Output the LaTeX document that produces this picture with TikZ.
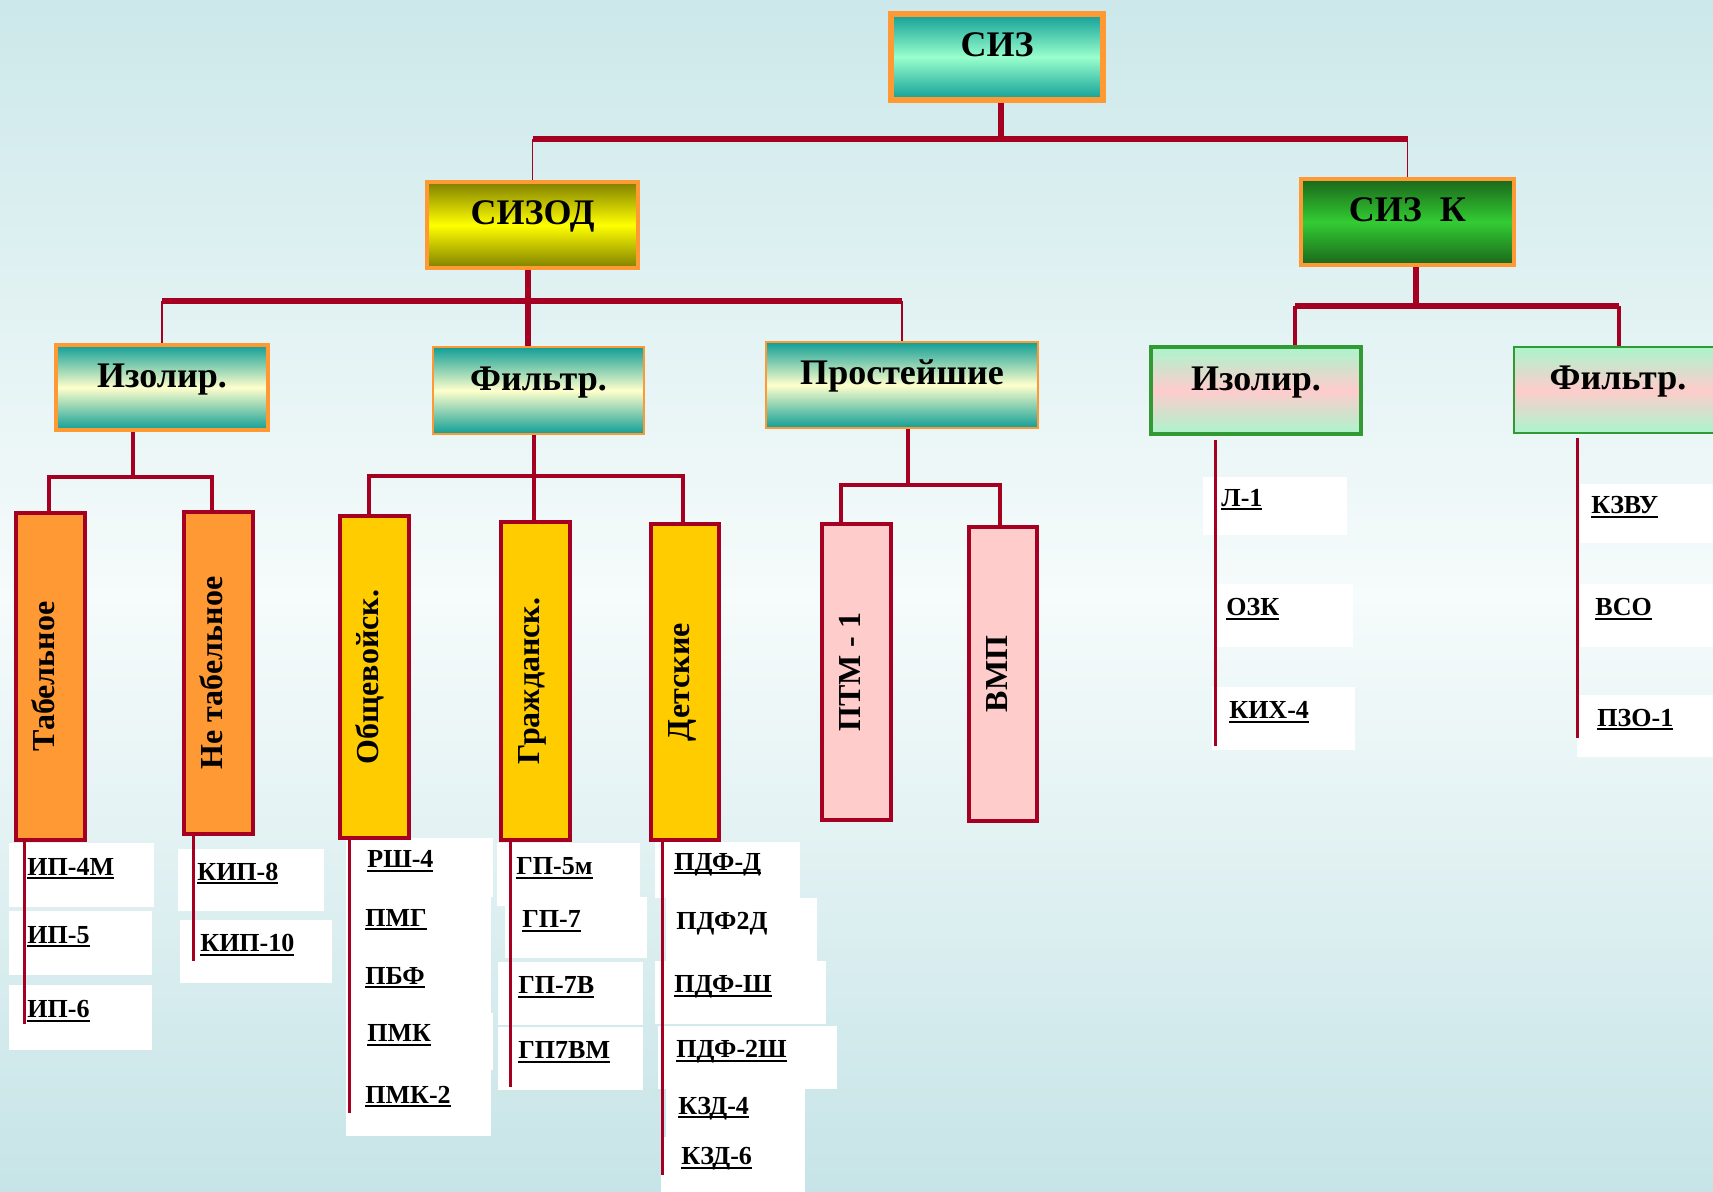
\documentclass[tikz,border=0pt]{standalone}
\usepackage{fontspec}
\setmainfont{Liberation Serif}
\definecolor{conn}{HTML}{A50021}
\definecolor{orng}{HTML}{FF9933}
\definecolor{teal1}{HTML}{109E96}
\definecolor{mint}{HTML}{99FFCC}
\definecolor{cream}{HTML}{FFFFCC}
\definecolor{olive1}{HTML}{807F00}
\definecolor{yel}{HTML}{FFFF00}
\definecolor{dgreen}{HTML}{1A661A}
\definecolor{bgreen}{HTML}{33CC33}
\definecolor{lmint}{HTML}{AAF5CC}
\definecolor{lpink}{HTML}{FFCCCC}
\definecolor{gborder}{HTML}{339933}
\definecolor{vorange}{HTML}{FF9933}
\definecolor{gold}{HTML}{FFCC00}
\definecolor{bgtop}{HTML}{CCE8EA}
\definecolor{bgmid}{HTML}{F6FBFB}
\definecolor{bgbot}{HTML}{C6E4E7}
\pgfdeclarelayer{bg}
\pgfdeclarelayer{mid}
\pgfsetlayers{bg,mid,main}
\newsavebox\ulbx
\newcommand\ulab[1]{\sbox\ulbx{#1}\rlap{\rule[-2pt]{\wd\ulbx}{1pt}}\usebox\ulbx}
\newcommand\vtxt[1]{\rotatebox{90}{\raisebox{0pt}[9pt][5pt]{#1}}}
\newcommand\itembx[7]{%
 \pgfmathsetmacro\itw{(#4-2*#6)*0.5}%
 \pgfmathsetmacro\itx{#6*0.5}%
 \pgfmathsetmacro\ith{#5*0.5}%
 \node[itembox, inner xsep=\itx pt, text width=\itw pt, minimum height=\ith pt] (#1) at (#2,#3) {#7};}
\tikzset{
 every node/.style={inner sep=0pt},
 hbox/.style={rectangle, font=\bfseries\fontsize{18}{20}\selectfont, text height=6pt, text depth=6pt},
 tealbox/.style={hbox, top color=teal1, bottom color=teal1, middle color=#1, draw=orng},
 olivebox/.style={hbox, top color=olive1, bottom color=olive1, middle color=yel, draw=orng},
 greenbox/.style={hbox, top color=dgreen, bottom color=dgreen, middle color=bgreen, draw=orng},
 pinkbox/.style={hbox, top color=lmint, bottom color=lmint, middle color=lpink, draw=gborder},
 vbox/.style={rectangle, draw=conn, line width=2pt, fill=#1, font=\bfseries\fontsize{16}{18}\selectfont},
 itembox/.style={fill=white, anchor=north west, inner ysep=0pt, align=left, text height=5pt, text depth=5pt, font=\bfseries\fontsize{13}{15}\selectfont},
 thickc/.style={draw=conn, line width=3pt},
 medc/.style={draw=conn, line width=2pt, line join=miter},
 thinc/.style={draw=conn, line width=0.8pt},
 listc/.style={draw=conn, line width=1.5pt},
}
\begin{document}
\begin{tikzpicture}[x=0.5pt,y=-0.5pt]
\useasboundingbox (0,0) rectangle (1713,1192);
\clip (0,0) rectangle (1713,1192);
\begin{pgfonlayer}{bg}
\shade[top color=bgtop, bottom color=bgbot, middle color=bgmid] (0,0) rectangle (1713,1192);
\end{pgfonlayer}

% list items (white boxes)
\itembx{ip4m}{9}{843}{145}{64}{18}{\ulab{ИП-4М}}
\itembx{ip5}{9}{911}{143}{64}{18}{\ulab{ИП-5}}
\itembx{ip6}{9}{985}{143}{65}{18}{\ulab{ИП-6}}
\itembx{kip8}{178}{849}{146}{62}{19}{\ulab{КИП-8}}
\itembx{kip10}{180}{920}{152}{63}{20}{\ulab{КИП-10}}
\itembx{rsh}{346}{838}{147}{59}{21}{\ulab{РШ-4}}
\itembx{pmg}{346}{897}{145}{58}{19}{\ulab{ПМГ}}
\itembx{pbf}{346}{955}{145}{58}{19}{\ulab{ПБФ}}
\itembx{pmk}{346}{1013}{147}{57}{21}{\ulab{ПМК}}
\itembx{pmk2}{346}{1070}{145}{66}{19}{\ulab{ПМК-2}}
\itembx{gp5}{497}{843}{143}{63}{19}{\ulab{ГП-5м}}
\itembx{gp7}{505}{897}{142}{61}{17}{\ulab{ГП-7}}
\itembx{gp7b}{498}{962}{145}{63}{20}{\ulab{ГП-7В}}
\itembx{gp7bm}{498}{1027}{145}{63}{20}{\ulab{ГП7ВМ}}
\itembx{pdfd}{655}{842}{145}{56}{19}{\ulab{ПДФ-Д}}
\itembx{pdf2d}{666}{898}{151}{63}{10}{ПДФ2Д}
\itembx{pdfsh}{655}{961}{171}{63}{19}{\ulab{ПДФ-Ш}}
\itembx{pdf2sh}{658}{1026}{179}{63}{18}{\ulab{ПДФ-2Ш}}
\itembx{kzd4}{666}{1089}{139}{50}{12}{\ulab{КЗД-4}}
\itembx{kzd6}{661}{1137}{144}{55}{20}{\ulab{КЗД-6}}
\itembx{l1}{1203}{477}{144}{58}{18}{\ulab{Л-1}}
\itembx{ozk}{1213}{584}{140}{63}{13}{\ulab{ОЗК}}
\itembx{kih}{1212}{687}{143}{63}{17}{\ulab{КИХ-4}}
\itembx{kzvu}{1580}{484}{140}{59}{11}{\ulab{КЗВУ}}
\itembx{vso}{1580}{584}{140}{63}{15}{\ulab{ВСО}}
\itembx{pzo}{1577}{695}{140}{62}{20}{\ulab{ПЗО-1}}

% heading boxes
\node[tealbox=mint, line width=3pt, minimum width=106pt, minimum height=43pt] (siz) at (997,57) {СИЗ};
\node[olivebox, line width=2pt, minimum width=105.5pt, minimum height=43pt] (sizod) at (532.5,225) {СИЗОД};
\node[greenbox, line width=2pt, minimum width=106.5pt, minimum height=43pt] (sizk) at (1407.5,222) {СИЗ~~К};
\node[tealbox=cream, line width=2pt, minimum width=106pt, minimum height=42.5pt] (izL) at (162,387.5) {Изолир.};
\node[tealbox=cream, line width=1pt, minimum width=105.5pt, minimum height=43.5pt] (filt) at (538.5,390.5) {Фильтр.};
\node[tealbox=cream, line width=1pt, minimum width=136pt, minimum height=43pt] (prost) at (902,385) {Простейшие};
\node[pinkbox, line width=2pt, minimum width=105pt, minimum height=43.5pt] (izR) at (1256,390.5) {Изолир.};
\node[pinkbox, line width=1pt, minimum width=104pt, minimum height=43pt] (filR) at (1618,390) {Фильтр.};

% vertical boxes
\node[vbox=vorange, minimum width=34.5pt, minimum height=163.5pt] (tab) at (50.5,676.5) {\vtxt{Табельное}};
\node[vbox=vorange, minimum width=34.5pt, minimum height=161pt] (ntab) at (218.5,673) {\vtxt{Не табельное}};
\node[vbox=gold, minimum width=34.5pt, minimum height=161pt] (obsh) at (374.5,677) {\vtxt{Общевойск.}};
\node[vbox=gold, minimum width=34.5pt, minimum height=159pt] (grazh) at (535.5,681) {\vtxt{Гражданск.}};
\node[vbox=gold, minimum width=34pt, minimum height=158pt] (det) at (685,682) {\vtxt{Детские}};
\node[vbox=lpink, minimum width=34.5pt, minimum height=148pt] (ptm) at (856.5,672) {\vtxt{ПТМ - 1}};
\node[vbox=lpink, minimum width=34pt, minimum height=147pt] (vmp) at (1003,674) {\vtxt{ВМП}};

% junction coordinates
\coordinate (b1) at (1001,139);
\coordinate (b2) at (528,301);
\coordinate (b3) at (1416,306);
\coordinate (b3l) at (1295,306);
\coordinate (b3r) at (1619,306);
\coordinate (c1) at (133,477);
\coordinate (c1l) at (49,477);
\coordinate (c1r) at (212,477);
\coordinate (c2) at (534,476);
\coordinate (c2l) at (369,476);
\coordinate (c2r) at (683,476);
\coordinate (c3) at (908,485);
\coordinate (c3l) at (841,485);
\coordinate (c3r) at (1000,485);

\begin{pgfonlayer}{mid}
% level 1
\draw[thickc] (siz.south -| b1) -- (b1);
\draw[thickc] (sizod.north |- b1) -- (sizk.north |- b1);
\draw[thinc] (sizod.north |- b1) -- (sizod.north);
\draw[thinc] (sizk.north |- b1) -- (sizk.north);
% СИЗОД level
\draw[thickc] (sizod.south -| b2) -- (b2 |- filt.north);
\draw[thickc] (izL.north |- b2) -- (prost.north |- b2);
\draw[thinc] (izL.north |- b2) -- (izL.north);
\draw[thinc] (prost.north |- b2) -- (prost.north);
% СИЗ К level
\draw[thickc] (sizk.south -| b3) -- (b3);
\draw[medc] (b3l |- izR.north) -- (b3l);
\draw[medc, line width=2.4pt] (b3r |- filR.north) -- (b3r);
\draw[thickc] (b3l) -- (b3r);
% level 3
\draw[medc] (c1 |- izL.south) -- (c1);
\draw[medc] (c1l |- tab.north) -- (c1l) -- (c1r) -- (c1r |- ntab.north);
\draw[medc] (c2 |- filt.south) -- (c2 |- grazh.north);
\draw[medc] (c2l |- obsh.north) -- (c2l) -- (c2r) -- (c2r |- det.north);
\draw[medc] (c3 |- prost.south) -- (c3);
\draw[medc] (c3l |- ptm.north) -- (c3l) -- (c3r) -- (c3r |- vmp.north);
\end{pgfonlayer}

% list lines
\coordinate (e1) at (24,1024);
\coordinate (e2) at (193,961);
\coordinate (e3) at (349,1113);
\coordinate (e4) at (510,1087);
\coordinate (e5) at (662,1175);
\coordinate (e6) at (1215,746);
\coordinate (e7) at (1577,738);
\draw[listc] (e1 |- tab.south) -- (e1);
\draw[listc] (e2 |- ntab.south) -- (e2);
\draw[listc] (e3 |- obsh.south) -- (e3);
\draw[listc] (e4 |- grazh.south) -- (e4);
\draw[listc] (e5 |- det.south) -- (e5);
\draw[listc] ([yshift=-2pt]e6 |- izR.south) -- (e6);
\draw[listc] ([yshift=-2pt]e7 |- filR.south) -- (e7);
\end{tikzpicture}
\end{document}
